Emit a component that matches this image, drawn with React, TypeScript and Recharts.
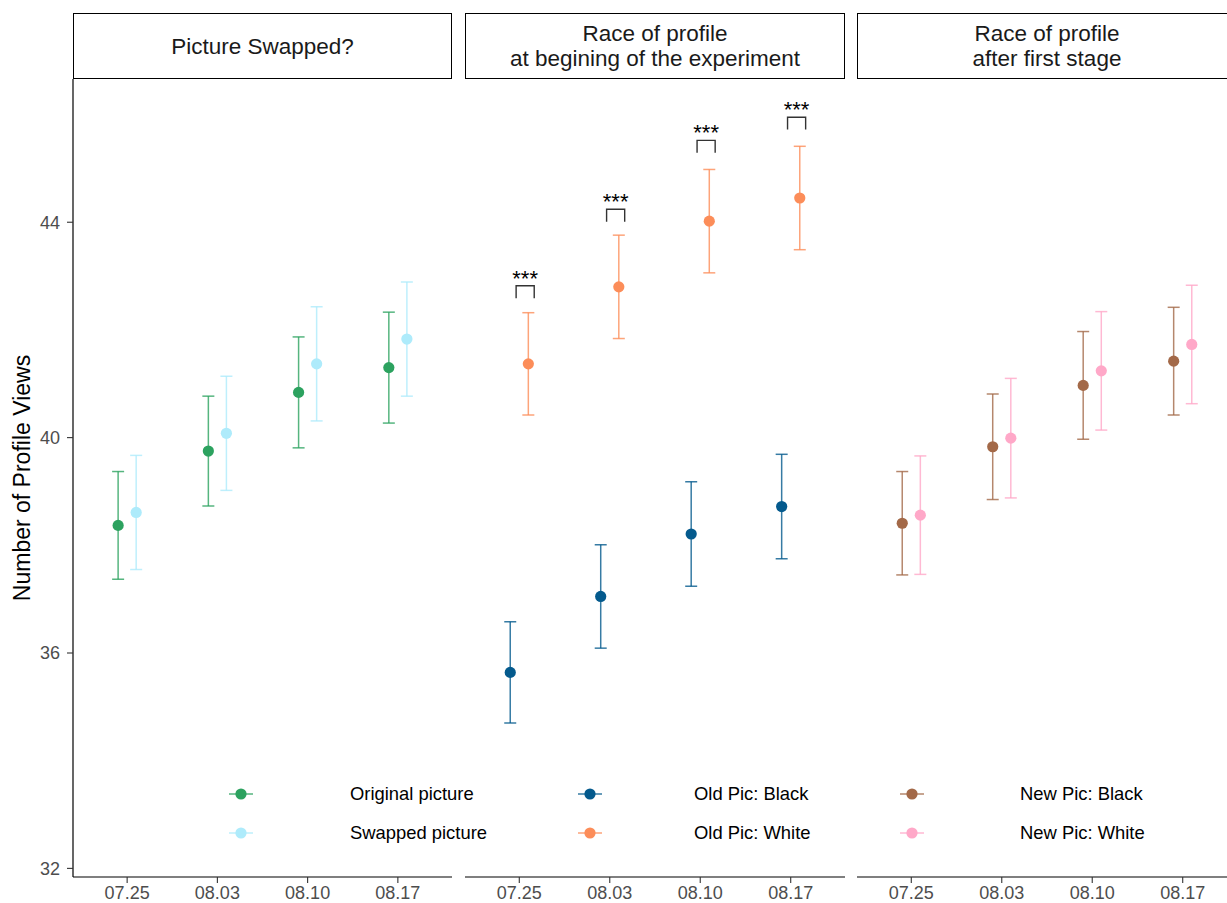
import React from 'react';
import { ScatterChart, Scatter, XAxis, YAxis, ErrorBar } from 'recharts';

// Survey dates shown on every facet
const dates = ['07.25', '08.03', '08.10', '08.17'];
const yTicks = [32, 36, 40, 44];

// Facet 1: picture swapped?
const originalMean = [38.37, 39.75, 40.84, 41.3];
const originalErr = [1.0, 1.02, 1.03, 1.03];
const swappedMean = [38.61, 40.08, 41.37, 41.83];
const swappedErr = [1.06, 1.06, 1.06, 1.06];

// Facet 2: race of profile at the beginning
const oldBlackMean = [35.64, 37.05, 38.21, 38.72];
const oldBlackErr = [0.94, 0.96, 0.97, 0.97];
const oldWhiteMean = [41.37, 42.8, 44.02, 44.45];
const oldWhiteErr = [0.95, 0.96, 0.96, 0.96];

// Facet 3: race of profile after first stage
const newBlackMean = [38.41, 39.83, 40.97, 41.42];
const newBlackErr = [0.96, 0.98, 1.0, 1.0];
const newWhiteMean = [38.56, 39.99, 41.24, 41.73];
const newWhiteErr = [1.1, 1.11, 1.1, 1.1];

// Significance brackets (top of bracket) for facet 2
const sigTop = [42.82, 44.24, 45.52, 45.95];
const sigText = ['***', '***', '***', '***'];

const panelTitles = [
  ['Picture Swapped?'],
  ['Race of profile', 'at begining of the experiment'],
  ['Race of profile', 'after first stage'],
];

const FONT = '"Liberation Sans", Arial, Helvetica, sans-serif';
const Y_DOMAIN: [number, number] = [31.84, 46.66];
const X_DOMAIN: [number, number] = [0.4, 4.6];
const DODGE = 0.1;
const CHART_H = 903;
const PLOT_TOP = 79;

const C = {
  original: '#2ca25f',
  swapped: '#aeebfb',
  oldBlack: '#045a8d',
  oldWhite: '#fc8d59',
  newBlack: '#a36948',
  newWhite: '#ffa8c8',
};

type Pt = { x: number; y: number; err: number };
const toPoints = (means: number[], errs: number[], offset: number): Pt[] =>
  means.map((m, i) => ({ x: i + 1 + offset, y: m, err: errs[i] }));

type Series = { name: string; color: string; data: Pt[] };

const dot = (color: string) => (p: any) =>
  p.cx == null ? <g /> : <circle cx={p.cx} cy={p.cy} r={5.6} fill={color} />;

const empty = () => <g />;

const starLabel = (p: any) =>
  p.cx == null ? (
    <g />
  ) : (
    <text x={p.cx} y={p.cy} textAnchor="middle" fontSize={22} fontFamily={FONT} fill="#000">
      {p.payload.label}
    </text>
  );

function Panel({
  left,
  width,
  showY,
  series,
  brackets,
}: {
  left: number;
  width: number;
  showY: boolean;
  series: Series[];
  brackets?: boolean;
}) {
  return (
    <div style={{ position: 'absolute', left, top: 0 }}>
      <ScatterChart width={width} height={CHART_H} margin={{ top: PLOT_TOP, right: 0, bottom: 0, left: 0 }}>
        <XAxis
          type="number"
          dataKey="x"
          domain={X_DOMAIN}
          ticks={[1, 2, 3, 4]}
          interval={0}
          allowDataOverflow
          tickFormatter={(v: number) => dates[Math.round(v) - 1]}
          height={26}
          tickSize={6}
          tickMargin={3}
          axisLine={{ stroke: '#000', strokeWidth: 1.2 }}
          tickLine={{ stroke: '#333', strokeWidth: 1.1 }}
          tick={{ fill: '#4d4d4d', fontSize: 18, fontFamily: FONT }}
        />
        <YAxis
          type="number"
          dataKey="y"
          domain={Y_DOMAIN}
          ticks={yTicks}
          interval={0}
          allowDataOverflow
          hide={!showY}
          width={73}
          tickSize={6}
          tickMargin={7}
          axisLine={{ stroke: '#000', strokeWidth: 1.2 }}
          tickLine={{ stroke: '#333', strokeWidth: 1.1 }}
          tick={{ fill: '#4d4d4d', fontSize: 18, fontFamily: FONT }}
        />
        {series.map((s) => (
          <Scatter key={s.name} name={s.name} data={s.data} shape={dot(s.color)} isAnimationActive={false}>
            <ErrorBar
              dataKey="err"
              direction="y"
              width={6}
              stroke={s.color}
              strokeWidth={1.5}
              strokeOpacity={0.8}
              isAnimationActive={false}
            />
          </Scatter>
        ))}
        {brackets &&
          sigTop.map((t, i) => {
            const c = i + 1;
            const pts = [
              { x: c - 0.035, y: t - 0.23 },
              { x: c - 0.035, y: t },
              { x: c + 0.165, y: t },
              { x: c + 0.165, y: t - 0.23 },
            ];
            return (
              <Scatter
                key={'br' + i}
                data={pts}
                line={{ stroke: '#333', strokeWidth: 1.4 }}
                lineType="joint"
                shape={empty}
                isAnimationActive={false}
              />
            );
          })}
        {brackets && (
          <Scatter
            data={sigTop.map((t, i) => ({ x: i + 1 + 0.065, y: t, label: sigText[i] }))}
            shape={starLabel}
            isAnimationActive={false}
          />
        )}
      </ScatterChart>
    </div>
  );
}

const strips = [
  { left: 73, width: 379 },
  { left: 465, width: 380 },
  { left: 857, width: 380 },
];

const legendGroups = [
  { keyX: 241, textX: 350, items: [{ label: 'Original picture', color: C.original }, { label: 'Swapped picture', color: C.swapped }] },
  { keyX: 590, textX: 694, items: [{ label: 'Old Pic: Black', color: C.oldBlack }, { label: 'Old Pic: White', color: C.oldWhite }] },
  { keyX: 912, textX: 1020, items: [{ label: 'New Pic: Black', color: C.newBlack }, { label: 'New Pic: White', color: C.newWhite }] },
];
const legendRows = [794, 833];

export default function App() {
  const p1: Series[] = [
    { name: 'Original picture', color: C.original, data: toPoints(originalMean, originalErr, -DODGE) },
    { name: 'Swapped picture', color: C.swapped, data: toPoints(swappedMean, swappedErr, DODGE) },
  ];
  const p2: Series[] = [
    { name: 'Old Pic: Black', color: C.oldBlack, data: toPoints(oldBlackMean, oldBlackErr, -DODGE) },
    { name: 'Old Pic: White', color: C.oldWhite, data: toPoints(oldWhiteMean, oldWhiteErr, DODGE) },
  ];
  const p3: Series[] = [
    { name: 'New Pic: Black', color: C.newBlack, data: toPoints(newBlackMean, newBlackErr, -DODGE) },
    { name: 'New Pic: White', color: C.newWhite, data: toPoints(newWhiteMean, newWhiteErr, DODGE) },
  ];

  return (
    <div
      style={{
        position: 'absolute',
        left: 0,
        top: 0,
        width: 1227,
        height: 903,
        overflow: 'hidden',
        background: '#fff',
        fontFamily: FONT,
      }}
    >
      <Panel left={0} width={452} showY series={p1} />
      <Panel left={465} width={380} showY={false} series={p2} brackets />
      <Panel left={857} width={380} showY={false} series={p3} />

      {strips.map((s, i) => (
        <div
          key={i}
          style={{
            position: 'absolute',
            left: s.left,
            top: 13,
            width: s.width,
            height: 66,
            boxSizing: 'border-box',
            border: '1.4px solid #000',
            display: 'flex',
            flexDirection: 'column',
            alignItems: 'center',
            justifyContent: 'center',
            fontSize: 22.5,
            lineHeight: '25px',
            color: '#1a1a1a',
          }}
        >
          {panelTitles[i].map((line, j) => (
            <div key={j}>{line}</div>
          ))}
        </div>
      ))}

      <svg
        width={1227}
        height={903}
        style={{ position: 'absolute', left: 0, top: 0, pointerEvents: 'none' }}
      >
        <text
          x={22}
          y={478}
          transform="rotate(-90 22 478)"
          textAnchor="middle"
          dy="0.35em"
          fontSize={23}
          fontFamily={FONT}
          fill="#000"
        >
          Number of Profile Views
        </text>
        {legendGroups.map((g, gi) =>
          g.items.map((it, ii) => (
            <g key={gi + '-' + ii}>
              <line
                x1={g.keyX - 12}
                x2={g.keyX + 12}
                y1={legendRows[ii]}
                y2={legendRows[ii]}
                stroke={it.color}
                strokeWidth={1.5}
                strokeOpacity={0.8}
              />
              <circle cx={g.keyX} cy={legendRows[ii]} r={5.6} fill={it.color} />
              <text
                x={g.textX}
                y={legendRows[ii]}
                dy="0.35em"
                fontSize={18.4}
                fontFamily={FONT}
                fill="#000"
              >
                {it.label}
              </text>
            </g>
          ))
        )}
      </svg>
    </div>
  );
}
